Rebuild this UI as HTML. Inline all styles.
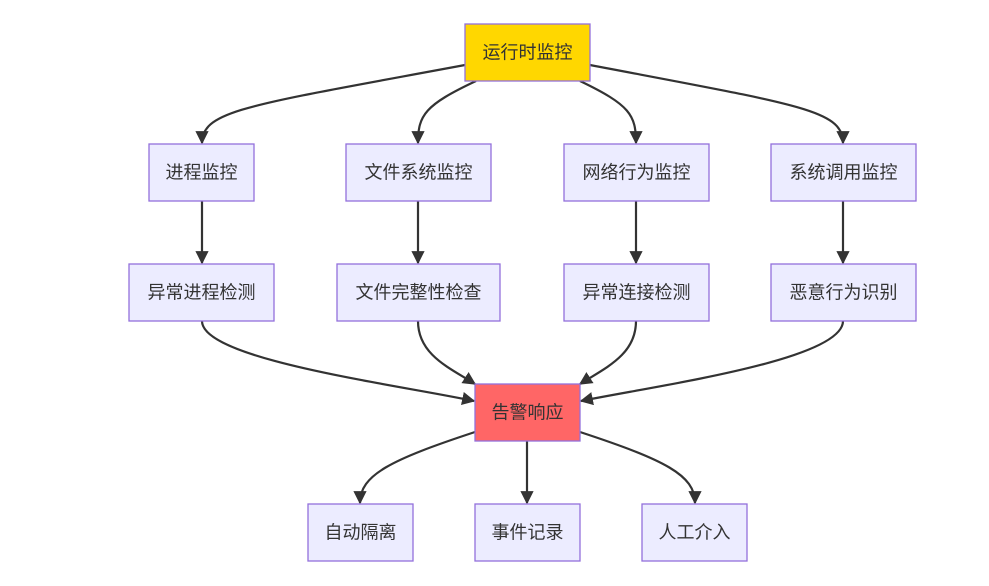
<!DOCTYPE html>
<html><head><meta charset="utf-8"><style>
body{margin:0;background:#fff;}
text{font-family:"Liberation Sans","Noto Sans CJK SC",sans-serif;font-size:18px;fill:#333;text-anchor:middle;dominant-baseline:central;}
.n{fill:#ECECFF;stroke:#9370DB;stroke-width:1.3;}
.e{fill:none;stroke:#333;stroke-width:2.2;marker-end:url(#a);}
</style></head><body>
<svg width="989" height="581" viewBox="0 0 989 581" xmlns="http://www.w3.org/2000/svg">
<defs><marker id="a" viewBox="0 0 10 10" refX="9" refY="5" markerWidth="6" markerHeight="6" markerUnits="strokeWidth" orient="auto"><path d="M0,0L10,5L0,10z" fill="#333"/></marker></defs>
<path class="e" d="M465,65 C250,105 202,110 202,143"/>
<path class="e" d="M476,81 C425,105 418,115 418,143"/>
<path class="e" d="M580,81 C630,105 636,115 636,143"/>
<path class="e" d="M590,65 C800,105 843,110 843,143"/>
<path class="e" d="M202,201 L202,263"/>
<path class="e" d="M418,201 L418,263"/>
<path class="e" d="M636,201 L636,263"/>
<path class="e" d="M843,201 L843,263"/>
<path class="e" d="M202,321 C202,360 400,385 474,401"/>
<path class="e" d="M418,321 C418,355 450,368 475,384"/>
<path class="e" d="M636,321 C636,355 605,368 580,384"/>
<path class="e" d="M843,321 C843,360 660,385 581,401"/>
<path class="e" d="M475,432 C390,460 360,475 360,503"/>
<path class="e" d="M527,441 L527,503"/>
<path class="e" d="M580,432 C665,460 695,475 695,503"/>
<rect x="465" y="24" width="125" height="57" fill="#FFD700" stroke="#9370DB" stroke-width="1.3"/><text x="527.5" y="52.5">运行时监控</text>
<rect class="n" x="149" y="144" width="105" height="57"/><text x="201.5" y="172.5">进程监控</text>
<rect class="n" x="346" y="144" width="145" height="57"/><text x="418.5" y="172.5">文件系统监控</text>
<rect class="n" x="564" y="144" width="145" height="57"/><text x="636.5" y="172.5">网络行为监控</text>
<rect class="n" x="771" y="144" width="145" height="57"/><text x="843.5" y="172.5">系统调用监控</text>
<rect class="n" x="129" y="264" width="145" height="57"/><text x="201.5" y="292.5">异常进程检测</text>
<rect class="n" x="337" y="264" width="163" height="57"/><text x="418.5" y="292.5">文件完整性检查</text>
<rect class="n" x="564" y="264" width="145" height="57"/><text x="636.5" y="292.5">异常连接检测</text>
<rect class="n" x="771" y="264" width="145" height="57"/><text x="843.5" y="292.5">恶意行为识别</text>
<rect x="475" y="384" width="105" height="57" fill="#FF6666" stroke="#9370DB" stroke-width="1.3"/><text x="527.5" y="412.5">告警响应</text>
<rect class="n" x="308" y="504" width="105" height="57"/><text x="360.5" y="532.5">自动隔离</text>
<rect class="n" x="475" y="504" width="105" height="57"/><text x="527.5" y="532.5">事件记录</text>
<rect class="n" x="642" y="504" width="105" height="57"/><text x="694.5" y="532.5">人工介入</text>
</svg>
</body></html>
